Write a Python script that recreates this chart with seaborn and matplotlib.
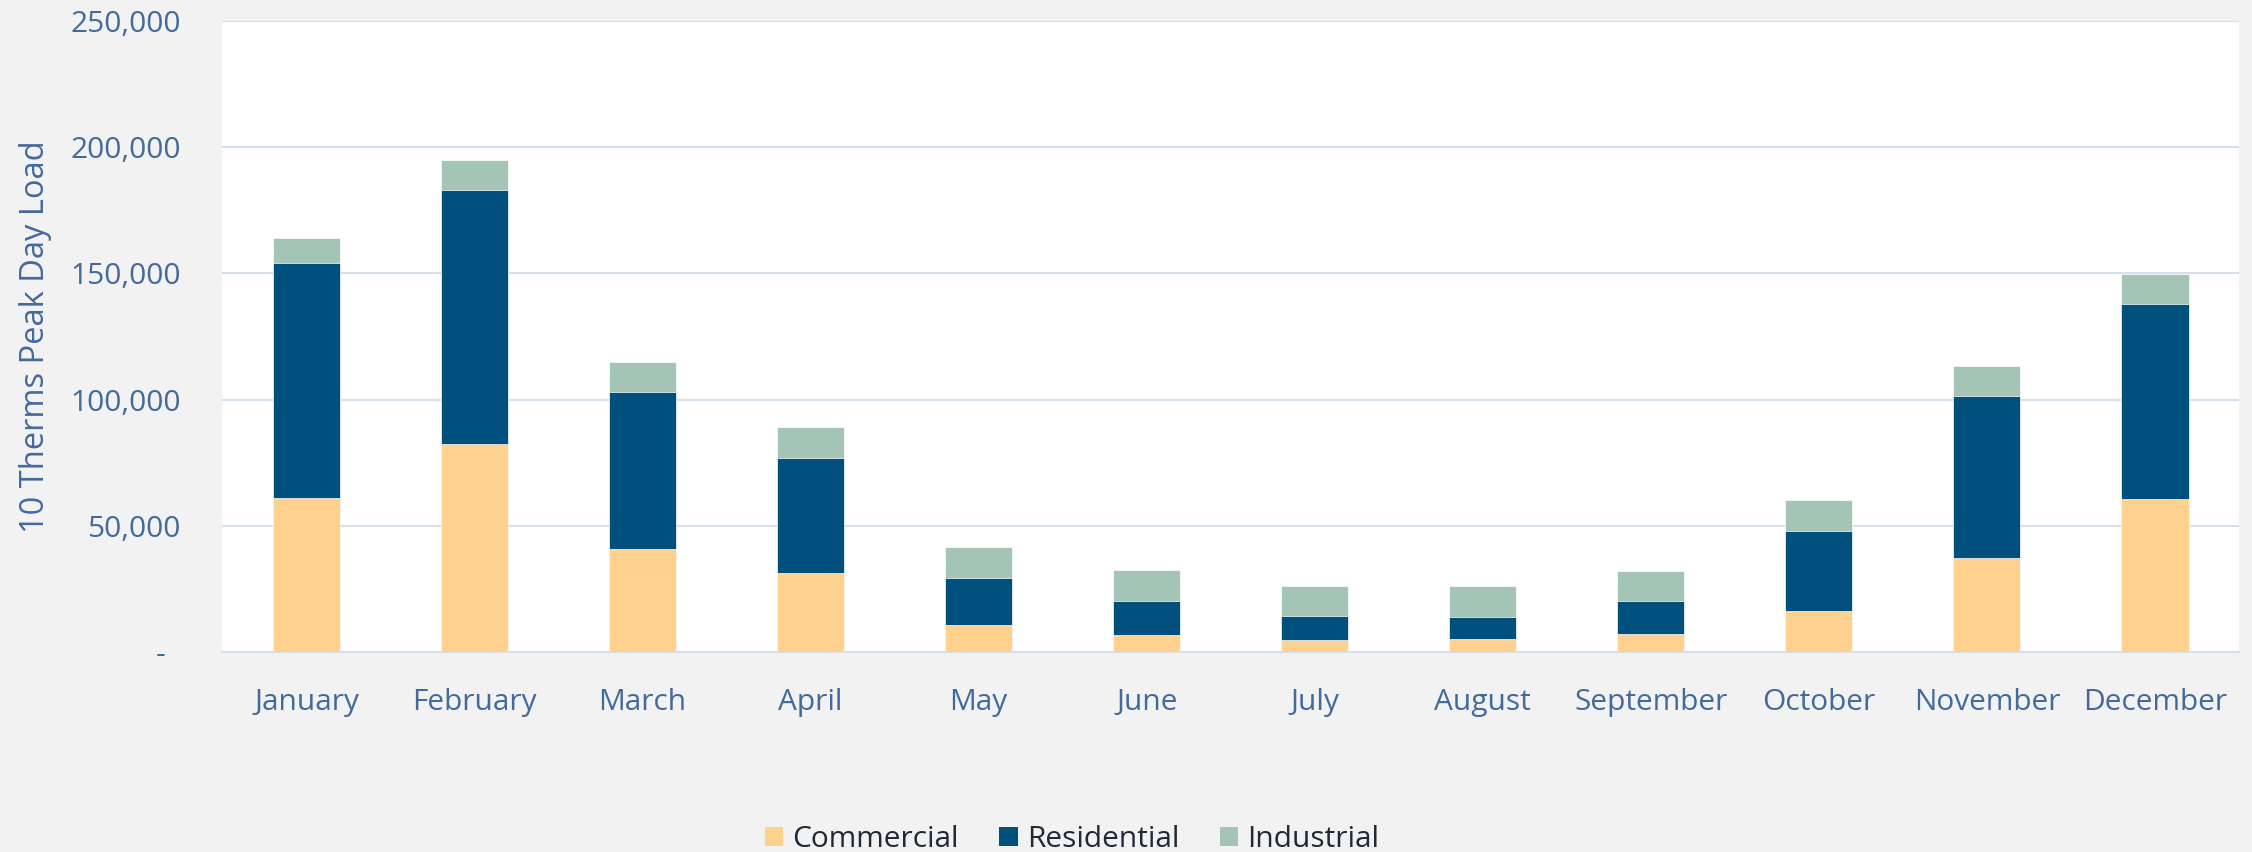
import matplotlib
matplotlib.use("Agg")
import matplotlib.pyplot as plt
from matplotlib.patches import Patch
from matplotlib.ticker import FuncFormatter
import numpy as np
import pandas as pd
import seaborn as sns

# Monthly peak-day load by customer class (10 therms)
months = ["January", "February", "March", "April", "May", "June",
          "July", "August", "September", "October", "November", "December"]
commercial = [61000, 82300, 41000, 31200, 10800, 7000, 5000, 5300, 7400, 16200, 37400, 60600]
residential = [92950, 100700, 62000, 45900, 18500, 13500, 9400, 8700, 13000, 31800, 64000, 77100]
industrial = [9900, 11900, 12100, 12100, 12200, 12000, 12000, 12200, 11800, 12100, 12100, 12000]

series_names = ["Commercial", "Residential", "Industrial"]
series_colors = ["#FED28E", "#00507D", "#A4C4B5"]

df = pd.DataFrame({"month": months, "Commercial": commercial,
                   "Residential": residential, "Industrial": industrial})
# cumulative tops so the layers can be overlaid from tallest to shortest
df["top_Commercial"] = df["Commercial"]
df["top_Residential"] = df["Commercial"] + df["Residential"]
df["top_Industrial"] = df["top_Residential"] + df["Industrial"]

sns.set_theme(style="white")
plt.rcParams["font.family"] = ["Open Sans", "DejaVu Sans"]

tick_color = "#44699B"
grid_color = "#D6E0EB"
fs = 21.5

fig = plt.figure(figsize=(22.52, 8.52), dpi=100)
fig.patch.set_facecolor("#F2F2F2")
ax = fig.add_axes([0.0988, 0.2344, 0.8954, 0.7413])
ax.set_facecolor("white")

for name, color in zip(reversed(series_names), reversed(series_colors)):
    sns.barplot(data=df, x="month", y=f"top_{name}", order=months, color=color,
                width=0.4, saturation=1, edgecolor="white", linewidth=0.5,
                ax=ax, zorder=3)

ax.set_xlim(-0.5, len(months) - 0.5)
ax.set_ylim(0, 250000)
ax.set_yticks(np.arange(0, 250001, 50000))
ax.yaxis.set_major_formatter(FuncFormatter(lambda v, p: "-  " if v == 0 else f"{int(v):,}"))

ax.grid(axis="y", color=grid_color, linewidth=1.5, zorder=0)
ax.grid(axis="x", visible=False)
ax.set_axisbelow(True)
for side in ["top", "right", "left"]:
    ax.spines[side].set_visible(False)
ax.spines["bottom"].set_color(grid_color)
ax.spines["bottom"].set_linewidth(1.5)

ax.tick_params(axis="both", length=0, labelsize=fs, labelcolor=tick_color)
ax.tick_params(axis="x", pad=26)
ax.tick_params(axis="y", pad=30)
ax.set_xlabel("")
ax.set_ylabel("10 Therms Peak Day Load", fontsize=23.5, color=tick_color)
ax.yaxis.set_label_coords(-0.0846, 0.5)

handles = [Patch(facecolor=c, edgecolor="none", label=n) for n, c in zip(series_names, series_colors)]
fig.legend(handles=handles, loc="center", bbox_to_anchor=(0.476, 0.0145), ncol=3,
           frameon=False, fontsize=fs, handlelength=0.62, handleheight=0.62,
           handletextpad=0.3, columnspacing=1.35, labelcolor="#1F2A36")

fig.savefig("out.png", dpi=100, facecolor=fig.get_facecolor())
